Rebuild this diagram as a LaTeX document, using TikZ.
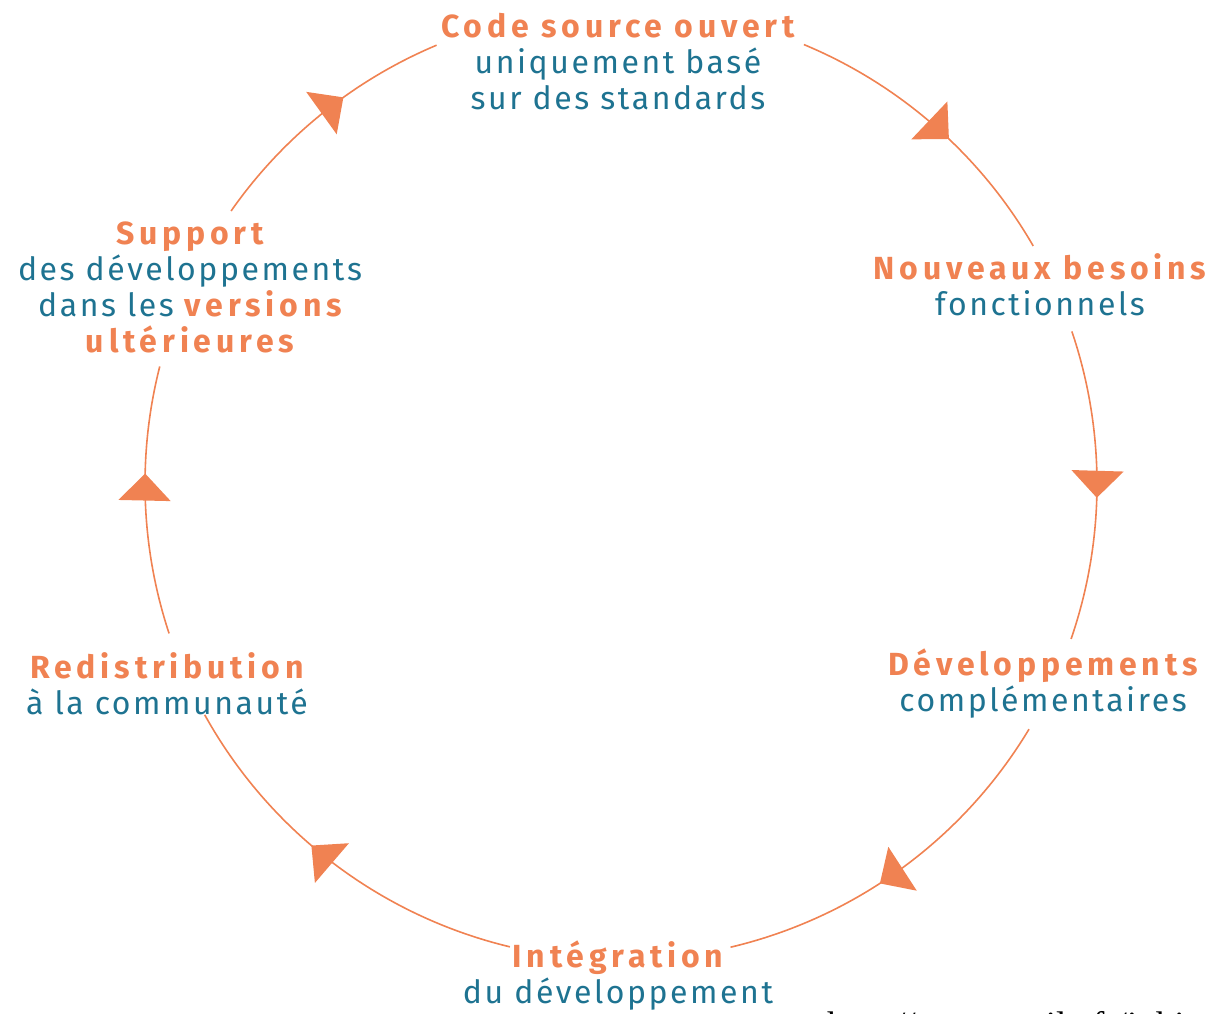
\documentclass[tikz,border=0pt]{standalone}
\usepackage{fontspec}
\setmainfont{Fira Sans}
\newfontfamily\cyclefont[LetterSpace=8,BoldFeatures={LetterSpace=15}]{Fira Sans}
\newfontfamily\urlfont{Liberation Serif}
\usetikzlibrary{arrows.meta,decorations.markings}
\definecolor{cycleorange}{RGB}{240,130,82}
\definecolor{cycleblue}{RGB}{30,115,145}
\tikzset{
  cyclearc/.style={cycleorange, line width=1.6pt, postaction={decorate},
    decoration={markings, mark=at position #1 with {\arrow{Triangle[width=52pt,length=27pt]}}}},
  steplabel/.style={align=center, inner sep=0pt, text=cycleblue,
    font=\cyclefont\fontsize{32}{36}\selectfont},
}
\newcommand{\headline}[1]{{\color{cycleorange}\bfseries #1}}
\begin{document}
\begin{tikzpicture}[x=1pt,y=1pt]
      \useasboundingbox (0,0) rectangle (1209,1013);
      \coordinate (c) at (621,529);
      \coordinate (p1) at ([shift={(67.4:476)}]c);
      \coordinate (p2) at ([shift={(18.7:476)}]c);
      \coordinate (p3) at ([shift={(-31:476)}]c);
      \coordinate (p4) at ([shift={(-103.5:476)}]c);
      \coordinate (p5) at ([shift={(198.3:476)}]c);
      \coordinate (p6) at ([shift={(145:476)}]c);

      \draw[cyclearc=0.56] (p1) arc[start angle=67.4, end angle=30, radius=476];
      \draw[cyclearc=0.54] (p2) arc[start angle=18.7, end angle=-19, radius=476];
      \draw[cyclearc=0.57] (p3) arc[start angle=-31, end angle=-76.7, radius=476];
      \draw[cyclearc=0.57] (p4) arc[start angle=-103.5, end angle=-151, radius=476];
      \draw[cyclearc=0.6] (p5) arc[start angle=198.3, end angle=165.7, radius=476];
      \draw[cyclearc=0.6] (p6) arc[start angle=145, end angle=112.8, radius=476];

      \node[steplabel] (code) at (618,951) {\headline{Code source ouvert}\\uniquement basé\\sur des standards};
      \node[steplabel] (besoins) at (1040,728) {\headline{Nouveaux besoins}\\fonctionnels};
      \node[steplabel] (devel) at (1043,329) {\headline{Développements}\\complémentaires};
      \node[steplabel] (integ) at (618,37) {\headline{Intégration}\\du développement};
      \node[steplabel] (redis) at (167,329) {\headline{Redistribution}\\à la communauté};
      \node[steplabel] (support) at (190,726) {\headline{Support}\\des développements\\dans les \headline{versions}\\\headline{ultérieures}};

      \node[anchor=base west, inner sep=0pt, font=\urlfont\fontsize{37}{40}\selectfont] (url) at (827,-24) {http://www.smile.fr/ixhi};
    \end{tikzpicture}
\end{document}
